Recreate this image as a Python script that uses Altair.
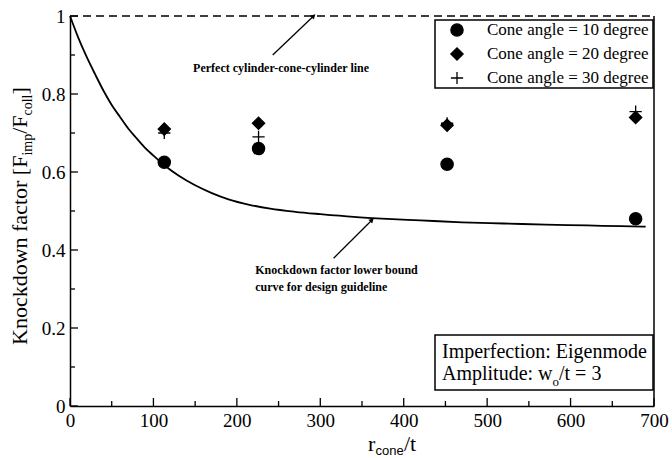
import altair as alt
import pandas as pd

# ---------------- data ----------------
curve_x = [0, 10, 20, 30, 40, 50, 60, 70, 80, 90, 100, 115, 130, 150, 170, 190, 215, 240, 270,
           300, 340, 380, 420, 470, 520, 570, 620, 660, 690]
curve_y = [1.0, 0.944, 0.895, 0.851, 0.809, 0.772, 0.741, 0.711, 0.686, 0.662, 0.642, 0.614,
           0.591, 0.566, 0.546, 0.530, 0.516, 0.506, 0.498, 0.492, 0.485, 0.480, 0.476, 0.471,
           0.468, 0.465, 0.463, 0.461, 0.46]

r_over_t = [113, 226, 452, 678]
knock_10 = [0.625, 0.66, 0.62, 0.48]
knock_20 = [0.71, 0.725, 0.72, 0.74]
knock_30 = [0.70, 0.69, 0.725, 0.755]
series = ["Cone angle = 10 degree", "Cone angle = 20 degree", "Cone angle = 30 degree"]

perfect_x = [0, 700]
perfect_y = [1.0, 1.0]

x_major = [0, 100, 200, 300, 400, 500, 600, 700]
x_minor = [50, 150, 250, 350, 450, 550, 650]
y_major = [0, 0.2, 0.4, 0.6, 0.8, 1.0]
y_minor = [0.1, 0.3, 0.5, 0.7, 0.9]

note_texts = ["Perfect cylinder-cone-cylinder line",
              "Knockdown factor lower bound",
              "curve for design guideline"]
note_x = [253, 222, 222]
note_y = [0.867, 0.349, 0.305]
note_align = ["center", "left", "left"]

arrow_tail_x = [243, 316]
arrow_tail_y = [0.90, 0.379]
arrow_tip_x = [292, 362]
arrow_tip_y = [1.0, 0.477]

# ---------------- layout ----------------
W, H = 584, 390
SERIF = "Liberation Serif"
SHAPES = ["circle", "diamond", "M-1,0H1M0,-1V1"]
XS = alt.Scale(domain=[0, 700], nice=False, zero=False)
YS = alt.Scale(domain=[0, 1], nice=False, zero=False)

x_axis = alt.Axis(values=x_major, format="d", title=None, ticks=False, grid=False,
                  domainColor="black", domainWidth=1.5, labelFont=SERIF, labelFontSize=19,
                  labelColor="black", labelPadding=5, labelFlush=False)
y_axis = alt.Axis(values=y_major, format="~g", title=None, ticks=False, grid=False,
                  domainColor="black", domainWidth=1.5, labelFont=SERIF, labelFontSize=19,
                  labelColor="black", labelPadding=5)


def X(field):
    return alt.X(field, scale=XS, axis=x_axis)


def Y(field):
    return alt.Y(field, scale=YS, axis=y_axis)


curve_df = pd.DataFrame({"x": curve_x, "y": curve_y})
curve = alt.Chart(curve_df).mark_line(color="black", strokeWidth=1.8, interpolate="monotone").encode(
    x=X("x:Q"), y=Y("y:Q"))

perfect_df = pd.DataFrame({"x": perfect_x, "y": perfect_y})
perfect = alt.Chart(perfect_df).mark_line(color="black", strokeWidth=1.3, strokeDash=[8, 5]).encode(
    x=X("x:Q"), y=Y("y:Q"))

rows = []
for lab, vals in zip(series, [knock_10, knock_20, knock_30]):
    for r, k in zip(r_over_t, vals):
        rows.append({"r": r, "k": k, "s": lab})
pts_df = pd.DataFrame(rows)

points = alt.Chart(pts_df).mark_point(filled=False, fill="black", size=150, color="black",
                                      stroke="black", strokeWidth=1.3, opacity=1,
                                      fillOpacity=1).encode(
    x=X("r:Q"),
    y=Y("k:Q"),
    shape=alt.Shape("s:N", scale=alt.Scale(domain=series, range=SHAPES), legend=None),
)


# inward ticks
def xticks(vals, ln):
    return alt.Chart(pd.DataFrame({"v": vals})).mark_rule(color="black", strokeWidth=1.3).encode(
        x=X("v:Q"), y=alt.value(H), y2=alt.value(H - ln))


def yticks(vals, ln):
    return alt.Chart(pd.DataFrame({"v": vals})).mark_rule(color="black", strokeWidth=1.3).encode(
        y=Y("v:Q"), x=alt.value(0), x2=alt.value(ln))


right_border = alt.Chart(pd.DataFrame({"v": [700]})).mark_rule(color="black", strokeWidth=1.5).encode(
    x=X("v:Q"), y=alt.value(0), y2=alt.value(H))

# annotations
notes_df = pd.DataFrame({"x": note_x, "y": note_y, "t": note_texts, "a": note_align})
notes_c = alt.Chart(notes_df[notes_df.a == "center"]).mark_text(
    font=SERIF, fontWeight="bold", fontSize=12, color="black", align="center", baseline="middle").encode(
    x=X("x:Q"), y=Y("y:Q"), text="t:N")
notes_l = alt.Chart(notes_df[notes_df.a == "left"]).mark_text(
    font=SERIF, fontWeight="bold", fontSize=12, color="black", align="left", baseline="middle").encode(
    x=X("x:Q"), y=Y("y:Q"), text="t:N")

arrow_df = pd.DataFrame({"x": arrow_tail_x, "y": arrow_tail_y, "x2": arrow_tip_x, "y2": arrow_tip_y})
arrow_lines = alt.Chart(arrow_df).mark_rule(color="black", strokeWidth=1.3).encode(
    x=X("x:Q"), y=Y("y:Q"), x2="x2:Q", y2="y2:Q")
arrow_heads = alt.Chart(arrow_df).mark_point(shape="triangle-up", filled=True, size=30,
                                             color="black", angle=46, opacity=1).encode(
    x=X("x2:Q"), y=Y("y2:Q"))

one = pd.DataFrame({"d": [0]})


def txt(text, x, y, size, angle=0, font=SERIF, baseline="alphabetic"):
    return alt.Chart(one).mark_text(text=text, font=font, fontSize=size, color="black",
                                    align="left", baseline=baseline, angle=angle).encode(
        x=alt.value(x), y=alt.value(y))


def box(x1, x2, y1, y2):
    return alt.Chart(one).mark_rect(fill="white", stroke="black", strokeWidth=1.5).encode(
        x=alt.value(x1), x2=alt.value(x2), y=alt.value(y1), y2=alt.value(y2))


# legend (drawn by hand)
legend_layers = [box(365, 583, 4, 72)]
for i, (lab, shp) in enumerate(zip(series, SHAPES)):
    ry = 14 + 24 * i
    legend_layers.append(
        alt.Chart(one).mark_point(shape=shp, size=150, filled=False, fill="black", stroke="black",
                                  strokeWidth=1.3, opacity=1, fillOpacity=1).encode(
            x=alt.value(387), y=alt.value(ry)))
    legend_layers.append(txt(lab, 417, ry, 17, baseline="middle"))

info = [
    box(365, 583, 319, 374),
    txt("Imperfection: Eigenmode", 372, 342, 20),
    txt("Amplitude: w", 372, 364, 20),
    txt("o", 482.6, 370, 13),
    txt("/t = 3", 489, 364, 20),
]

# y-axis title with subscripts (rotated)
yt = [
    txt("Knockdown factor [F", -43, 329, 22, angle=270),
    txt("imp", -38, 139.6, 14, angle=270),
    txt("/F", -43, 117.8, 22, angle=270),
    txt("coll", -38, 99.5, 14, angle=270),
    txt("]", -43, 78.5, 22, angle=270),
]

# x-axis title with subscript
xt = [
    txt("r", 298, 435, 22),
    txt("cone", 305.5, 439, 13, font="Liberation Sans"),
    txt("/t", 334, 435, 22),
]

chart = alt.layer(
    curve, perfect,
    xticks(x_major, 8), xticks(x_minor, 5), yticks(y_major, 8), yticks(y_minor, 5),
    right_border, arrow_lines, arrow_heads, notes_c, notes_l,
    *info, *yt, *xt, *legend_layers,
    points,
).properties(
    width=W, height=H,
    autosize=alt.AutoSizeParams(type="none"),
    padding={"left": 70, "top": 16, "right": 18, "bottom": 52},
    background="white",
).configure_view(stroke=None).configure_axis(
    labelFont=SERIF, labelFontSize=19, labelColor="black"
)

chart.save("out.html", embed_options={"renderer": "svg", "actions": False})
